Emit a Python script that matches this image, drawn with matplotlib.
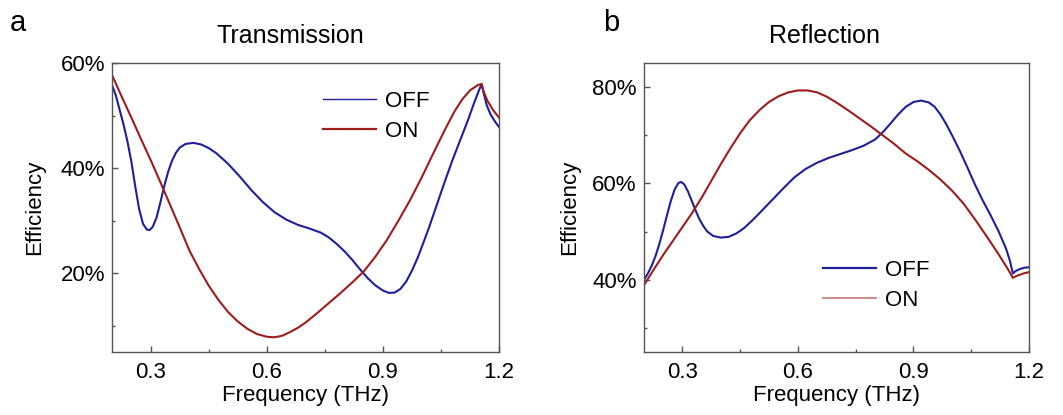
import numpy as np
import matplotlib.pyplot as plt
from matplotlib.ticker import MultipleLocator, FuncFormatter

plt.rcParams['font.family'] = ['Liberation Sans', 'DejaVu Sans']

# Transmission data (frequency in THz, efficiency in %)
t_off_f = [0.200, 0.210, 0.220, 0.230, 0.240, 0.250, 0.260, 0.270, 0.280, 0.290, 0.297,
           0.305, 0.315, 0.325, 0.335, 0.345, 0.355, 0.365, 0.375, 0.390, 0.410, 0.430,
           0.450, 0.470, 0.500, 0.530, 0.560, 0.590, 0.620, 0.650, 0.680, 0.710, 0.740,
           0.760, 0.780, 0.800, 0.820, 0.840, 0.860, 0.880, 0.900, 0.915, 0.930, 0.945,
           0.960, 0.975, 0.990, 1.005, 1.020, 1.040, 1.060, 1.080, 1.100, 1.120, 1.135,
           1.148, 1.155, 1.160, 1.168, 1.178, 1.190, 1.200]
t_off = [55.8, 53.8, 51.0, 48.2, 45.0, 41.2, 36.5, 32.2, 29.4, 28.3, 28.2,
         28.8, 30.6, 33.5, 36.6, 39.3, 41.4, 42.9, 43.9, 44.6, 44.8, 44.5,
         43.8, 42.8, 40.8, 38.4, 35.8, 33.5, 31.6, 30.2, 29.2, 28.5, 27.7,
         26.8, 25.6, 24.2, 22.6, 20.8, 19.1, 17.7, 16.7, 16.25, 16.3, 17.0,
         18.4, 20.5, 23.0, 25.9, 28.9, 33.2, 37.5, 41.6, 45.4, 49.2, 52.3,
         54.8, 56.0, 54.3, 52.0, 50.2, 48.8, 47.8]
t_on_f = [0.200, 0.225, 0.250, 0.275, 0.300, 0.325, 0.350, 0.375, 0.400, 0.425, 0.450,
          0.475, 0.500, 0.525, 0.550, 0.575, 0.600, 0.620, 0.640, 0.660, 0.680, 0.700,
          0.730, 0.760, 0.790, 0.820, 0.850, 0.880, 0.910, 0.940, 0.970, 1.000, 1.030,
          1.060, 1.085, 1.105, 1.125, 1.145, 1.155, 1.160, 1.170, 1.185, 1.200]
t_on = [57.7, 53.6, 49.6, 45.5, 41.5, 37.3, 33.0, 28.7, 24.3, 20.8, 17.6,
        14.9, 12.6, 10.8, 9.4, 8.4, 7.9, 7.8, 8.1, 8.8, 9.6, 10.6,
        12.4, 14.3, 16.2, 18.2, 20.3, 23.1, 26.3, 30.0, 33.9, 38.2, 42.8,
        47.3, 50.8, 53.1, 54.8, 55.8, 56.0, 54.6, 52.8, 51.0, 49.6]

# Reflection data
r_off_f = [0.200, 0.210, 0.220, 0.230, 0.240, 0.250, 0.260, 0.270, 0.280, 0.290, 0.297,
           0.305, 0.315, 0.325, 0.335, 0.345, 0.355, 0.365, 0.380, 0.400, 0.420, 0.440,
           0.460, 0.480, 0.500, 0.530, 0.560, 0.590, 0.620, 0.650, 0.680, 0.710, 0.740,
           0.770, 0.800, 0.820, 0.840, 0.860, 0.880, 0.900, 0.920, 0.940, 0.955, 0.970,
           0.985, 1.000, 1.020, 1.040, 1.060, 1.080, 1.100, 1.120, 1.140, 1.150, 1.158,
           1.165, 1.175, 1.188, 1.200]
r_off = [39.9, 41.2, 42.8, 44.8, 47.3, 50.2, 53.3, 56.3, 58.7, 60.1, 60.3,
         59.8, 58.3, 56.3, 54.3, 52.5, 51.1, 50.0, 49.1, 48.75, 48.9, 49.6,
         50.7, 52.2, 53.8, 56.3, 58.8, 61.2, 63.0, 64.3, 65.3, 66.1, 66.9,
         67.8, 69.1, 70.6, 72.4, 74.3, 75.9, 76.9, 77.2, 76.8, 75.9, 74.3,
         72.3, 70.0, 66.8, 63.3, 59.7, 56.4, 53.4, 50.2, 46.5, 44.0, 41.3,
         41.8, 42.2, 42.5, 42.6]
r_on_f = [0.200, 0.225, 0.250, 0.275, 0.300, 0.325, 0.350, 0.375, 0.400, 0.425, 0.450,
          0.475, 0.500, 0.525, 0.550, 0.575, 0.600, 0.625, 0.650, 0.675, 0.700, 0.730,
          0.760, 0.790, 0.820, 0.850, 0.880, 0.910, 0.940, 0.970, 1.000, 1.030, 1.060,
          1.090, 1.120, 1.145, 1.158, 1.168, 1.185, 1.200]
r_on = [38.8, 42.0, 45.1, 48.0, 50.9, 53.8, 57.0, 60.5, 64.0, 67.3, 70.4,
        73.1, 75.2, 76.9, 78.1, 78.9, 79.3, 79.3, 78.9, 78.0, 76.8, 75.2,
        73.5, 71.8, 70.0, 68.2, 66.2, 64.6, 62.8, 60.8, 58.5, 55.8, 52.5,
        49.0, 45.4, 42.2, 40.4, 40.8, 41.3, 41.6]

blue = '#1f1f9e'
red = '#a01c1c'
gray = '#555555'

fig = plt.figure(figsize=(10.63, 4.15), dpi=100)
ax1 = fig.add_axes([0.1054, 0.1518, 0.3641, 0.6964])
ax2 = fig.add_axes([0.6056, 0.1518, 0.3625, 0.6964])

pct = FuncFormatter(lambda v, p: '%d%%' % round(v))


def style(ax, ylo, yhi):
    ax.set_xlim(0.2, 1.2)
    ax.set_ylim(ylo, yhi)
    ax.xaxis.set_major_locator(MultipleLocator(0.3))
    ax.xaxis.set_minor_locator(MultipleLocator(0.15))
    ax.yaxis.set_major_locator(MultipleLocator(20))
    ax.yaxis.set_minor_locator(MultipleLocator(10))
    ax.xaxis.set_major_formatter(FuncFormatter(lambda v, p: '%.1f' % v))
    ax.yaxis.set_major_formatter(pct)
    for s in ax.spines.values():
        s.set_color(gray)
        s.set_linewidth(1.0)
    ax.tick_params(which='both', direction='in', color=gray, width=1.0, labelsize=16)
    ax.tick_params(which='major', length=4.5)
    ax.tick_params(which='minor', length=2.2)
    ax.tick_params(axis='x', pad=7)
    ax.tick_params(axis='y', pad=5)
    ax.set_xlabel('Frequency (THz)', fontsize=16)
    ax.set_ylabel('Efficiency', fontsize=16)
    ax.xaxis.set_label_coords(0.5, -0.115)


style(ax1, 5, 60)
style(ax2, 25, 85)
ax1.yaxis.set_label_coords(-0.173, 0.5)
ax2.yaxis.set_label_coords(-0.165, 0.5)

ax1.plot(t_off_f, t_off, color=blue, lw=1.5, label='OFF')
ax1.plot(t_on_f, t_on, color=red, lw=1.5, label='ON')
ax2.plot(r_off_f, r_off, color=blue, lw=1.5, label='OFF')
ax2.plot(r_on_f, r_on, color=red, lw=1.5, label='ON')

leg1 = ax1.legend(loc='upper left', bbox_to_anchor=(0.545, 0.903), frameon=False,
                  fontsize=16, handlelength=2.4, handletextpad=0.4, labelspacing=0.4,
                  borderpad=0, borderaxespad=0)
leg1.get_lines()[0].set_linewidth(1.0)
leg1.get_lines()[1].set_linewidth(1.6)

leg2 = ax2.legend(loc='upper left', bbox_to_anchor=(0.465, 0.319), frameon=False,
                  fontsize=16, handlelength=2.4, handletextpad=0.4, labelspacing=0.4,
                  borderpad=0, borderaxespad=0)
leg2.get_lines()[0].set_linewidth(1.6)
leg2.get_lines()[1].set_linewidth(1.2)
leg2.get_lines()[1].set_alpha(0.6)

ax1.text(0.462, 1.095, 'Transmission', transform=ax1.transAxes, ha='center', va='center', fontsize=18)
ax2.text(0.468, 1.095, 'Reflection', transform=ax2.transAxes, ha='center', va='center', fontsize=18)

fig.text(0.0094, 0.925, 'a', fontsize=21, va='baseline')
fig.text(0.567, 0.925, 'b', fontsize=21, va='baseline')

fig.savefig('out.png', dpi=100)
